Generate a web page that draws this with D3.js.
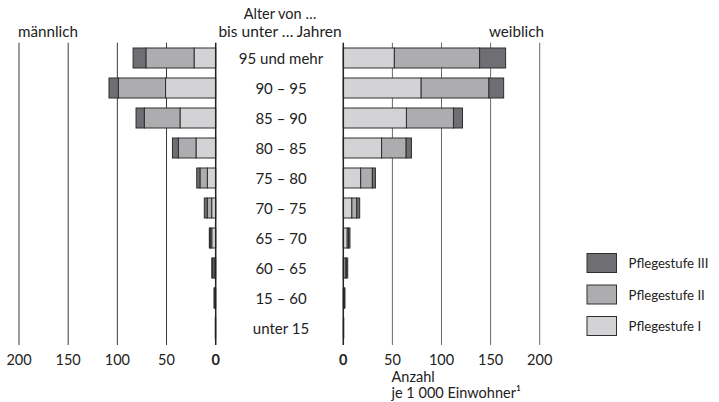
<!DOCTYPE html>
<html><head><meta charset="utf-8">
<script src="https://cdn.jsdelivr.net/npm/d3@7"></script>
<style>body{margin:0;background:#fff}svg{display:block}text{font-family:Lato,"Open Sans",sans-serif;fill:#222}</style>
</head><body><svg id="c" width="719" height="402"></svg>
<script>
const ages = ["95 und mehr","90 – 95","85 – 90","80 – 85","75 – 80","70 – 75","65 – 70","60 – 65","15 – 60","unter 15"];
const maleI   = [22, 51, 36.3, 20, 8.5, 4.1, 4, 1.5, 0.7, 0.2];
const maleII  = [49, 48, 36.3, 18, 7.5, 4.5, 1.5, 1.5, 0.6, 0.1];
const maleIII = [13, 9.5, 8.4, 6, 3.3, 3, 1, 1, 0.4, 0.1];
const femI    = [52, 79.3, 64.3, 39, 17.7, 8.7, 4, 2, 0.7, 0.2];
const femII   = [86.8, 69, 47.9, 25, 11.9, 5, 1.3, 1.3, 0.5, 0.1];
const femIII  = [26.5, 15, 9.2, 5.4, 3.1, 3, 1.5, 1.2, 0.5, 0.1];
const ticks = [0, 50, 100, 150, 200];
const levels = ["Pflegestufe I","Pflegestufe II","Pflegestufe III"];
const colors = ["#d3d3d5","#adadb0","#6f6e73"];

const svg = d3.select("#c");
const y = d3.scaleBand().domain(ages).range([43, 343]).paddingInner(1/3).paddingOuter(1/6);
const xL = d3.scaleLinear().domain([0, 200]).range([215.7, 19]);
const xR = d3.scaleLinear().domain([0, 200]).range([343.3, 539.7]);
const gTop = 42.7, gBot = 345;

// gridlines
svg.append("g").selectAll("line").data(ticks.filter(t => t > 0)).join("line")
  .attr("x1", d => xL(d)).attr("x2", d => xL(d)).attr("y1", gTop).attr("y2", gBot)
  .attr("stroke", "#3a3a3a").attr("stroke-width", 1);
svg.append("g").selectAll("line").data(ticks.filter(t => t > 0)).join("line")
  .attr("x1", d => xR(d)).attr("x2", d => xR(d)).attr("y1", gTop).attr("y2", gBot)
  .attr("stroke", "#6a6a6a").attr("stroke-width", 1);

function stackRows(a, b, c) {
  return ages.map((age, i) => {
    const v = [a[i], b[i], c[i]];
    let s = 0;
    return v.map((val, k) => { const r = {age, k, x0: s, x1: s + val}; s += val; return r; });
  }).flat();
}

const male = stackRows(maleI, maleII, maleIII);
const fem = stackRows(femI, femII, femIII);

svg.append("g").selectAll("rect").data(male).join("rect")
  .attr("x", d => xL(d.x1)).attr("width", d => xL(d.x0) - xL(d.x1))
  .attr("y", d => y(d.age)).attr("height", y.bandwidth())
  .attr("fill", d => colors[d.k]).attr("stroke", "#2e2e2e").attr("stroke-width", 1);
svg.append("g").selectAll("rect").data(fem).join("rect")
  .attr("x", d => xR(d.x0)).attr("width", d => xR(d.x1) - xR(d.x0))
  .attr("y", d => y(d.age)).attr("height", y.bandwidth())
  .attr("fill", d => colors[d.k]).attr("stroke", "#2e2e2e").attr("stroke-width", 1);

// zero axes
[xL(0), xR(0)].forEach(x => svg.append("line").attr("x1", x).attr("x2", x)
  .attr("y1", gTop).attr("y2", gBot).attr("stroke", "#222").attr("stroke-width", 1.5));

// age labels
svg.append("g").selectAll("text").data(ages).join("text")
  .attr("x", 281).attr("y", d => y(d) + y.bandwidth() / 2 + 5.5)
  .attr("text-anchor", "middle").attr("font-size", 15).text(d => d);

// tick labels
svg.append("g").selectAll("text").data(ticks).join("text")
  .attr("x", d => xL(d)).attr("y", 365).attr("text-anchor", "middle").attr("font-size", 14.5)
  .attr("font-weight", d => d === 0 ? "bold" : "normal").text(d => d);
svg.append("g").selectAll("text").data(ticks).join("text")
  .attr("x", d => xR(d)).attr("y", 365).attr("text-anchor", "middle").attr("font-size", 14.5)
  .attr("font-weight", d => d === 0 ? "bold" : "normal").text(d => d);

// headers
svg.append("text").attr("x", 280).attr("y", 19).attr("text-anchor", "middle").attr("font-size", 14.5).text("Alter von …");
svg.append("text").attr("x", 280).attr("y", 36.5).attr("text-anchor", "middle").attr("font-size", 15.5).text("bis unter … Jahren");
svg.append("text").attr("x", 18).attr("y", 37).attr("font-size", 15.2).text("männlich");
svg.append("text").attr("x", 489).attr("y", 37).attr("font-size", 15.2).text("weiblich");
svg.append("text").attr("x", 391.5).attr("y", 381.5).attr("font-size", 14.5).text("Anzahl");
svg.append("text").attr("x", 391.5).attr("y", 397.5).attr("font-size", 14.5).text("je 1 000 Einwohner¹");

// legend
const leg = [2, 1, 0];
const lg = svg.append("g").selectAll("g").data(leg).join("g")
  .attr("transform", (d, i) => `translate(587,${253.5 + i * 31.5})`);
lg.append("rect").attr("width", 29.5).attr("height", 19).attr("fill", d => colors[d])
  .attr("stroke", "#2e2e2e").attr("stroke-width", 1);
lg.append("text").attr("x", 41.5).attr("y", 14.5).attr("font-size", 13.2).text(d => levels[d]);
</script></body></html>
